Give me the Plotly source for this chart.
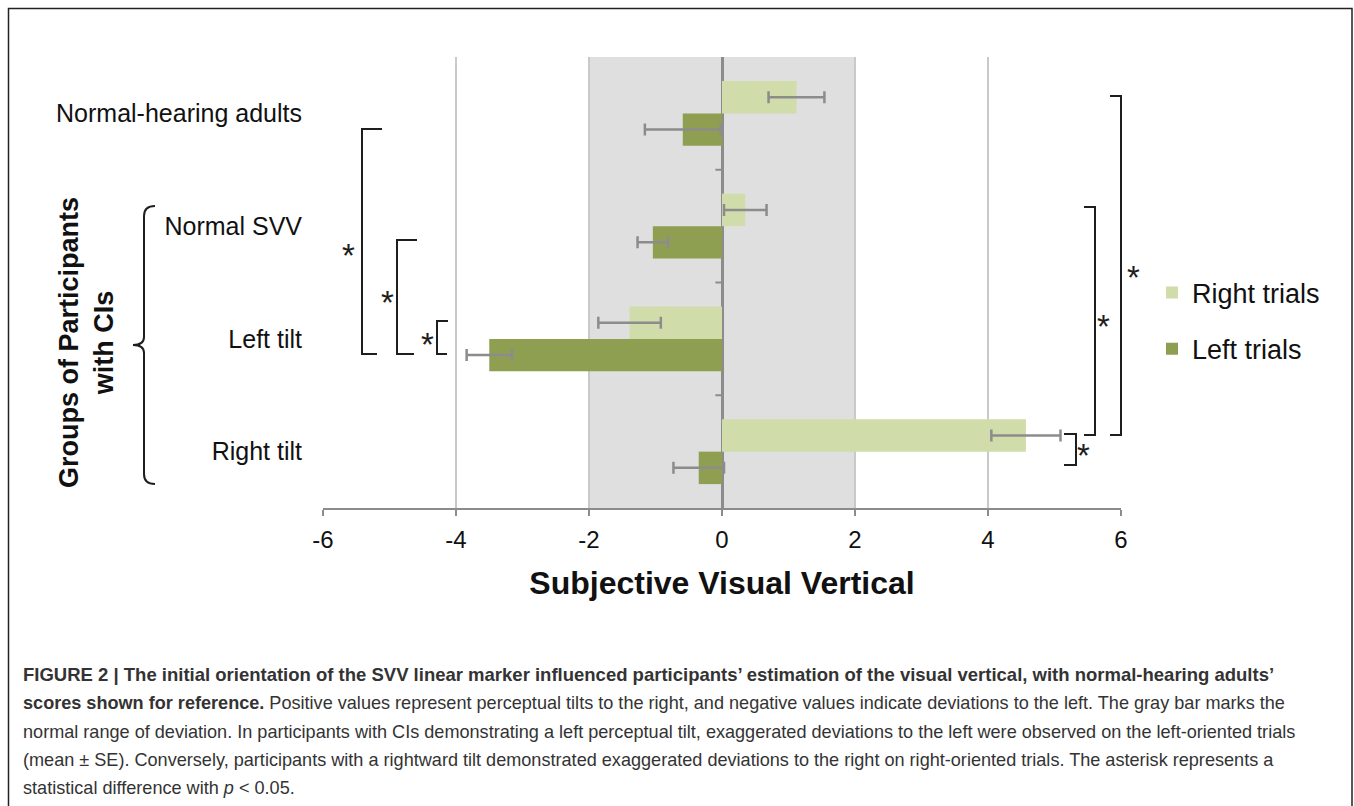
import plotly.graph_objects as go

# ---------------- data ----------------
groups = ["Normal-hearing adults", "Normal SVV", "Left tilt", "Right tilt"]
series_names = ["Right trials", "Left trials"]
right_trials = [1.12, 0.35, -1.39, 4.57]
right_se = [0.42, 0.32, 0.47, 0.52]
left_trials = [-0.59, -1.04, -3.50, -0.35]
left_se = [0.57, 0.23, 0.34, 0.38]
x_ticks = [-6, -4, -2, 0, 2, 4, 6]
normal_range = [-2, 2]

caption_lines = [
    "<b>FIGURE 2 | The initial orientation of the SVV linear marker influenced participants’ estimation of the visual vertical, with normal-hearing adults’</b>",
    "<b>scores shown for reference.</b> Positive values represent perceptual tilts to the right, and negative values indicate deviations to the left. The gray bar marks the",
    "normal range of deviation. In participants with CIs demonstrating a left perceptual tilt, exaggerated deviations to the left were observed on the left-oriented trials",
    "(mean ± SE). Conversely, participants with a rightward tilt demonstrated exaggerated deviations to the right on right-oriented trials. The asterisk represents a",
    "statistical difference with <i>p</i> &lt; 0.05.",
]

# ---------------- layout geometry (pixels) ----------------
W, H = 1354, 806
L, R, T, B = 323, 1121, 57, 508


def px(x):
    return (x - L) / (R - L)


def py(y):
    return (B - y) / (B - T)


LIGHT = "#d0dca9"
DARK = "#8e9f52"
AXIS = "#8c8c8c"
GRID = "#c9c9c9"
BAND = "#dfdfdf"
INK = "#1e1e1e"
FONT = "Liberation Sans, Arial, sans-serif"
CAPFONT = "Liberation Sans, Arial, sans-serif"

fig = go.Figure()
fig.add_trace(go.Bar(
    y=groups, x=right_trials, orientation="h", name=series_names[0],
    marker=dict(color=LIGHT, line=dict(width=0)), legendgroup="r",
    error_x=dict(type="data", array=right_se, color=AXIS, thickness=2.5, width=6),
))
fig.add_trace(go.Bar(
    y=groups, x=left_trials, orientation="h", name=series_names[1],
    marker=dict(color=DARK, line=dict(width=0)), legendgroup="l",
    error_x=dict(type="data", array=left_se, color=AXIS, thickness=2.5, width=6),
))

shapes = []
# normal range band
shapes.append(dict(type="rect", xref="x", yref="paper", x0=normal_range[0], x1=normal_range[1],
                   y0=0, y1=1, fillcolor=BAND, line=dict(width=0), layer="below"))
# small ticks on the zero line between categories
for k in range(len(groups) - 1):
    shapes.append(dict(type="line", xref="x", yref="y", x0=-0.1, x1=0, y0=k + 0.5, y1=k + 0.5,
                       line=dict(color=AXIS, width=2)))


def bracket(xv, y0, y1, xarm0, xarm1):
    path = (f"M {px(xarm0)},{py(y0)} L {px(xv)},{py(y0)} L {px(xv)},{py(y1)} L {px(xarm1)},{py(y1)}")
    return dict(type="path", xref="paper", yref="paper", path=path, line=dict(color=INK, width=2))


# left brackets
shapes.append(bracket(362, 129, 354, 382, 377))
shapes.append(bracket(397, 240, 354, 417, 414))
shapes.append(bracket(437, 321, 354, 448, 447))
# right brackets
shapes.append(bracket(1121, 96, 435, 1110, 1110))
shapes.append(bracket(1095, 207, 435, 1084, 1084))
shapes.append(bracket(1076, 434, 465, 1064, 1064))

# curly brace for CI groups
bx, top, mid, bot, arm, tip = 144, 206, 345, 484, 155, 133
brace = (f"M {px(arm)},{py(top)} Q {px(bx)},{py(top)} {px(bx)},{py(top + 10)} "
         f"L {px(bx)},{py(mid - 8)} Q {px(bx)},{py(mid)} {px(tip)},{py(mid)} "
         f"Q {px(bx)},{py(mid)} {px(bx)},{py(mid + 8)} "
         f"L {px(bx)},{py(bot - 10)} Q {px(bx)},{py(bot)} {px(arm)},{py(bot)}")
shapes.append(dict(type="path", xref="paper", yref="paper", path=brace, line=dict(color=INK, width=2)))

# outer frame
shapes.append(dict(type="rect", xref="paper", yref="paper", x0=px(8.5), x1=px(1352), y0=py(8.5), y1=py(830),
                   line=dict(color="#222222", width=1.5), fillcolor="rgba(0,0,0,0)", layer="above"))

annotations = []
for (ax, ay) in [(348, 251), (387, 298), (427, 340), (1133, 273), (1103, 322), (1083, 451)]:
    annotations.append(dict(xref="paper", yref="paper", x=px(ax), y=py(ay), text="*", showarrow=False,
                            font=dict(family=FONT, size=33, color=INK), xanchor="center", yanchor="middle",
                            yshift=-4))

annotations.append(dict(xref="paper", yref="paper", x=px(86), y=py(343),
                        text="<b>Groups of Participants<br>with CIs</b>", textangle=-90, showarrow=False,
                        font=dict(family=FONT, size=27, color="#111111"), xanchor="center", yanchor="middle"))

cap_y = [674, 703, 732, 760, 788]
cap_sizes = [18.5, 18.1, 18.1, 18.1, 18.1]
for line, yv, sz in zip(caption_lines, cap_y, cap_sizes):
    annotations.append(dict(xref="paper", yref="paper", x=px(21), y=py(yv), text=line, showarrow=False,
                            xanchor="left", yanchor="middle", align="left",
                            font=dict(family=CAPFONT, size=sz, color="#333333")))

fig.update_layout(
    width=W, height=H,
    margin=dict(l=L, r=W - R, t=T, b=H - B, pad=0),
    paper_bgcolor="white", plot_bgcolor="white",
    barmode="group", bargap=0.424, bargroupgap=0,
    font=dict(family=FONT, color="#111111"),
    showlegend=True,
    legend=dict(x=px(1152), y=py(321), xanchor="left", yanchor="middle", traceorder="grouped",
                font=dict(family=FONT, size=27, color="#111111"), tracegroupgap=18,
                bgcolor="rgba(0,0,0,0)", itemwidth=30),
    shapes=shapes, annotations=annotations,
    xaxis=dict(range=[-6, 6], tickmode="array", tickvals=x_ticks, ticktext=[str(v) for v in x_ticks],
               showgrid=True, gridcolor=GRID, gridwidth=2,
               zeroline=True, zerolinecolor=AXIS, zerolinewidth=2.5,
               showline=True, linecolor=AXIS, linewidth=2,
               ticks="outside", ticklen=6, tickwidth=2, tickcolor=AXIS,
               ticklabelstandoff=3,
               tickfont=dict(family=FONT, size=24, color="#111111"),
               title=dict(text="<b>Subjective Visual Vertical</b>", standoff=20,
                          font=dict(family=FONT, size=32, color="#111111"))),
    yaxis=dict(categoryorder="array", categoryarray=groups, autorange="reversed",
               showgrid=False, zeroline=False, showline=False, ticks="",
               ticklabelstandoff=20,
               tickfont=dict(family=FONT, size=25, color="#111111")),
)

fig.write_html("out.html", config={"displayModeBar": False},
               post_script="document.body.style.margin='0';document.body.style.overflow='hidden';")
